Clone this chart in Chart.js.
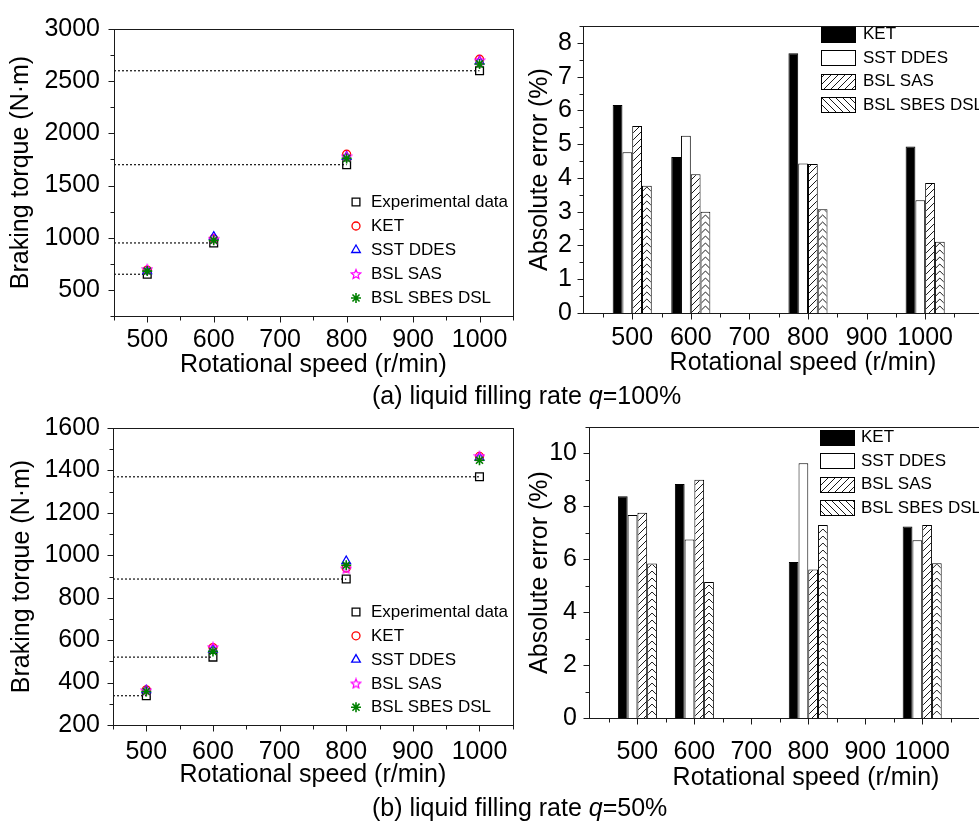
<!DOCTYPE html>
<html>
<head>
<meta charset="utf-8">
<script src="https://cdn.jsdelivr.net/npm/chart.js@4.4.1/dist/chart.umd.min.js"></script>
<style>
  html, body { margin: 0; padding: 0; background: #fff; overflow: hidden; width: 979px; height: 827px; }
  body { position: relative; font-family: "Liberation Sans", Arial, sans-serif; }
  canvas { position: absolute; }
  .cap { position: absolute; left: 372px; font-size: 25px; line-height: 30px; color: #000; white-space: nowrap; }
</style>
</head>
<body>
<canvas id="torqueA" width="520" height="390" style="left:0;top:0"></canvas>
<canvas id="errorA" width="530" height="390" style="left:500px;top:0"></canvas>
<canvas id="torqueB" width="520" height="400" style="left:0;top:400px"></canvas>
<canvas id="errorB" width="530" height="400" style="left:500px;top:400px"></canvas>
<div class="cap" style="top:380px">(a) liquid filling rate <i>q</i>=100%</div>
<div class="cap" style="top:792px">(b) liquid filling rate <i>q</i>=50%</div>
<script>
// rotational speeds (r/min) and model names
const speeds = [500, 600, 800, 1000];
const methods = ['KET', 'SST DDES', 'BSL SAS', 'BSL SBES DSL'];

// (a) liquid filling rate q = 100 %  -- braking torque (N·m)
const expA = [650, 950, 1700, 2600];
const ketA = [690, 990, 1800, 2710];
const sstA = [680, 1010, 1775, 2690];
const sasA = [700, 990, 1780, 2700];
const sbesA = [680, 975, 1760, 2665];
// (a) absolute error (%)
const errKetA = [6.16, 4.62, 7.69, 4.93];
const errSstA = [4.76, 5.25, 4.43, 3.34];
const errSasA = [5.54, 4.11, 4.41, 3.85];
const errSbesA = [3.77, 3.00, 3.07, 2.11];

// (b) liquid filling rate q = 50 %
const expB = [338, 520, 888, 1370];
const ketB = [366, 565, 940, 1466];
const sstB = [364, 555, 973, 1460];
const sasB = [364, 567, 938, 1468];
const sbesB = [358, 547, 953, 1448];
const errKetB = [8.38, 8.85, 5.90, 7.24];
const errSstB = [7.67, 6.75, 9.63, 6.72];
const errSasB = [7.76, 9.01, 5.61, 7.30];
const errSbesB = [5.84, 5.14, 7.30, 5.85];

// tick labels
const speedTicks = [500, 600, 700, 800, 900, 1000];
const torqueTicksA = [500, 1000, 1500, 2000, 2500, 3000];
const torqueTicksB = [200, 400, 600, 800, 1000, 1200, 1400, 1600];
const errTicksA = [0, 1, 2, 3, 4, 5, 6, 7, 8];
const errTicksB = [0, 2, 4, 6, 8, 10];

const FONT = '"Liberation Sans", Arial, sans-serif';
const tickFont = { family: FONT, size: 25 };
const titleFont = { family: FONT, size: 25 };

function pts(arr) { return speeds.map((s, i) => ({ x: s, y: arr[i] })); }

function hatch(dir) {
  const n = 7;
  const c = document.createElement('canvas');
  c.width = c.height = n;
  const g = c.getContext('2d');
  g.fillStyle = '#fff';
  g.fillRect(0, 0, n, n);
  g.strokeStyle = '#000';
  g.lineWidth = 0.9;
  g.beginPath();
  for (let k = -1; k <= 1; k++) {
    if (dir > 0) { g.moveTo(k * n, n); g.lineTo(k * n + n, 0); }
    else { g.moveTo(k * n, 0); g.lineTo(k * n + n, n); }
  }
  g.stroke();
  return g.createPattern(c, 'repeat');
}

function starImage(color) {
  const c = document.createElement('canvas');
  c.width = c.height = 12;
  const g = c.getContext('2d');
  g.strokeStyle = color;
  g.lineWidth = 1.2;
  g.beginPath();
  for (let i = 0; i < 10; i++) {
    const r = i % 2 ? 2.2 : 5;
    const a = -Math.PI / 2 + i * Math.PI / 5;
    g.lineTo(6 + r * Math.cos(a), 6.5 + r * Math.sin(a));
  }
  g.closePath();
  g.stroke();
  return c;
}

function isMajor(v, step) { return Math.abs(v / step - Math.round(v / step)) < 1e-6; }

// chevron fill for the BSL SBES DSL bars, drawn inside each bar element
function drawChevrons(chart) {
  const ctx = chart.ctx;
  chart.data.datasets.forEach((d, di) => {
    if (!d.chevron) return;
    chart.getDatasetMeta(di).data.forEach(bar => {
      const { x, y, base, width } = bar.getProps(['x', 'y', 'base', 'width']);
      const l = x - width / 2, r = x + width / 2, m = x;
      const h = width / 2;
      ctx.save();
      ctx.beginPath();
      ctx.rect(l + 1, y + 1, width - 2, base - y - 1);
      ctx.clip();
      ctx.strokeStyle = '#000';
      ctx.lineWidth = 0.9;
      ctx.beginPath();
      for (let yy = base + h; yy > y - 8; yy -= 7) {
        ctx.moveTo(l, yy);
        ctx.lineTo(m, yy - h);
        ctx.lineTo(r, yy);
      }
      ctx.stroke();
      ctx.restore();
    });
  });
}

// frame, outward major/minor ticks and the legend
const figPlugin = {
  id: 'fig',
  afterDatasetsDraw(chart, args, o) {
    drawChevrons(chart);
    const { ctx, chartArea: a } = chart;
    const sx = chart.scales.x, sy = chart.scales.y;
    ctx.save();
    ctx.strokeStyle = '#1a1a1a';
    ctx.lineWidth = 1;
    ctx.strokeRect(Math.round(a.left) + 0.5, Math.round(a.top) + 0.5,
      Math.round(a.right - a.left), Math.round(a.bottom - a.top));
    ctx.beginPath();
    const bot = Math.round(a.bottom) + 0.5, lft = Math.round(a.left) + 0.5;
    for (let v = Math.ceil(sx.min / o.xMinor) * o.xMinor; v <= sx.max + 1e-9; v += o.xMinor) {
      const px = Math.round(sx.getPixelForValue(v)) + 0.5;
      ctx.moveTo(px, bot);
      ctx.lineTo(px, bot + (isMajor(v, o.xMajor) ? 6 : 4));
    }
    for (let v = Math.ceil(sy.min / o.yMinor) * o.yMinor; v <= sy.max + 1e-9; v += o.yMinor) {
      const py = Math.round(sy.getPixelForValue(v)) + 0.5;
      ctx.moveTo(lft, py);
      ctx.lineTo(lft - (isMajor(v, o.yMajor) ? 6 : 4), py);
    }
    ctx.stroke();

    const lg = o.legend;
    ctx.font = '17px ' + FONT;
    ctx.textBaseline = 'middle';
    ctx.textAlign = 'left';
    chart.data.datasets.filter(d => d.label).forEach((d, i) => {
      const y = lg.y + i * lg.dy;
      if (lg.kind === 'bar') {
        ctx.fillStyle = d.legendFill || d.backgroundColor;
        ctx.fillRect(lg.x, Math.round(y - 7.5), 34, 15);
        ctx.strokeStyle = '#000';
        ctx.lineWidth = 1;
        ctx.strokeRect(lg.x + 0.5, Math.round(y - 7.5) + 0.5, 34, 15);
      } else {
        ctx.strokeStyle = d.borderColor;
        ctx.fillStyle = 'rgba(0,0,0,0)';
        ctx.lineWidth = d.borderWidth;
        Chart.helpers.drawPoint(ctx, { pointStyle: d.pointStyle, radius: d.pointRadius, borderWidth: d.borderWidth, rotation: 0 }, lg.x, y);
      }
      ctx.fillStyle = '#000';
      ctx.fillText(d.label, lg.tx, y + 0.5);
    });
    ctx.restore();
  }
};

function scales(o) {
  return {
    x: {
      type: 'linear', min: o.xMin, max: o.xMax, offset: false,
      grid: { display: false, drawTicks: false }, border: { display: false },
      afterBuildTicks: s => { s.ticks = speedTicks.map(v => ({ value: v })); },
      afterFit: s => { s.height = o.xH; },
      ticks: { padding: o.xPad, font: tickFont, color: '#000', maxRotation: 0, autoSkip: false, callback: v => String(v) },
      title: { display: true, text: 'Rotational speed (r/min)', font: titleFont, color: '#000', padding: { top: 0, bottom: o.xTitlePad } }
    },
    y: {
      type: 'linear', min: o.yMin, max: o.yMax,
      grid: { display: false, drawTicks: false }, border: { display: false },
      afterBuildTicks: s => { s.ticks = o.yTicks.map(v => ({ value: v })); },
      afterFit: s => { s.width = o.yW; },
      ticks: { padding: o.yPad, font: tickFont, color: '#000', autoSkip: false, callback: v => String(v) },
      title: { display: true, text: o.yTitle, font: titleFont, color: '#000', padding: { top: o.yTitlePad, bottom: 0 } }
    }
  };
}

function torqueChart(id, exp, series, o) {
  const star = starImage('#ff00ff');
  const styles = [
    { pointStyle: 'circle', pointRadius: 4, borderColor: '#ff0000', borderWidth: 1.3 },
    { pointStyle: 'triangle', pointRadius: 5, borderColor: '#0000ff', borderWidth: 1.3 },
    { pointStyle: star, pointRadius: 6, borderColor: '#ff00ff', borderWidth: 1.2 },
    { pointStyle: 'star', pointRadius: 5, borderColor: '#008000', borderWidth: 1.6 }
  ];
  const datasets = [];
  // dotted guide lines from the y axis to each measured value
  exp.forEach((e, i) => datasets.push({
    data: [{ x: o.xMin, y: e }, { x: speeds[i], y: e }],
    showLine: true, pointRadius: 0, borderColor: '#111', borderWidth: 1.2,
    borderDash: [2, 2], order: 10
  }));
  datasets.push({
    label: 'Experimental data', data: pts(exp), pointStyle: 'rect', pointRadius: 5.5,
    borderColor: '#000', borderWidth: 1.3, backgroundColor: 'rgba(0,0,0,0)', order: 5
  });
  series.forEach((arr, k) => datasets.push(Object.assign({
    label: methods[k], data: pts(arr), backgroundColor: 'rgba(0,0,0,0)', order: 4 - k
  }, styles[k])));

  new Chart(document.getElementById(id), {
    type: 'scatter',
    data: { datasets },
    plugins: [figPlugin],
    options: {
      responsive: false, animation: false, devicePixelRatio: 1,
      layout: { padding: { top: o.padTop, right: o.padRight, left: 0, bottom: 0 } },
      scales: scales(o),
      plugins: {
        legend: { display: false }, tooltip: { enabled: false },
        fig: { xMinor: 50, xMajor: 100, yMinor: o.yMinor, yMajor: o.yMajor, legend: o.legend }
      }
    }
  });
}

function errorChart(id, series, o) {
  const fills = ['#000', '#fff', hatch(1), '#fff'];
  new Chart(document.getElementById(id), {
    type: 'bar',
    data: {
      datasets: series.map((arr, k) => ({
        label: methods[k], data: pts(arr), backgroundColor: fills[k],
        legendFill: k === 3 ? hatch(-1) : null, chevron: k === 3,
        borderColor: '#000', borderWidth: 1, borderSkipped: 'bottom',
        barPercentage: 1, categoryPercentage: o.catPct
      }))
    },
    plugins: [figPlugin],
    options: {
      responsive: false, animation: false, devicePixelRatio: 1,
      layout: { padding: { top: o.padTop, right: o.padRight, left: 0, bottom: 0 } },
      scales: scales(o),
      plugins: {
        legend: { display: false }, tooltip: { enabled: false },
        fig: { xMinor: 50, xMajor: 100, yMinor: o.yMinor, yMajor: o.yMajor, legend: o.legend }
      }
    }
  });
}

torqueChart('torqueA', expA, [ketA, sstA, sasA, sbesA], {
  xMin: 450, xMax: 1050, yMin: 250, yMax: 3000, yTicks: torqueTicksA, yMinor: 250, yMajor: 500,
  yTitle: 'Braking torque (N\u00b7m)', padTop: 16, padRight: 4, yW: 114, xH: 74,
  xPad: 9, yPad: 14, xTitlePad: 10, yTitlePad: 6,
  legend: { kind: 'point', x: 356, tx: 371, y: 202, dy: 24 }
});

errorChart('errorA', [errKetA, errSstA, errSasA, errSbesA], {
  xMin: 416, xMax: 1167, yMin: 0, yMax: 8.5, yTicks: errTicksA, yMinor: 0.5, yMajor: 1,
  yTitle: 'Absolute error (%)', padTop: 19, padRight: 7, yW: 83, xH: 77,
  xPad: 10, yPad: 11, xTitlePad: 12, yTitlePad: 25.5, catPct: 0.667,
  legend: { kind: 'bar', x: 321, tx: 363, y: 34, dy: 23.5 }
});

torqueChart('torqueB', expB, [ketB, sstB, sasB, sbesB], {
  xMin: 450, xMax: 1050, yMin: 200, yMax: 1600, yTicks: torqueTicksB, yMinor: 100, yMajor: 200,
  yTitle: 'Braking torque (N\u00b7m)', padTop: 24, padRight: 4, yW: 113, xH: 75,
  xPad: 12, yPad: 13, xTitlePad: 10, yTitlePad: 7,
  legend: { kind: 'point', x: 356, tx: 371, y: 212, dy: 23.8 }
});

errorChart('errorB', [errKetB, errSstB, errSasB, errSbesB], {
  xMin: 415, xMax: 1177, yMin: 0, yMax: 11, yTicks: errTicksB, yMinor: 1, yMajor: 2,
  yTitle: 'Absolute error (%)', padTop: 23, padRight: 7, yW: 89, xH: 82,
  xPad: 19, yPad: 12, xTitlePad: 7, yTitlePad: 25, catPct: 0.685,
  legend: { kind: 'bar', x: 320, tx: 361, y: 37, dy: 23.5 }
});
</script>
</body>
</html>
